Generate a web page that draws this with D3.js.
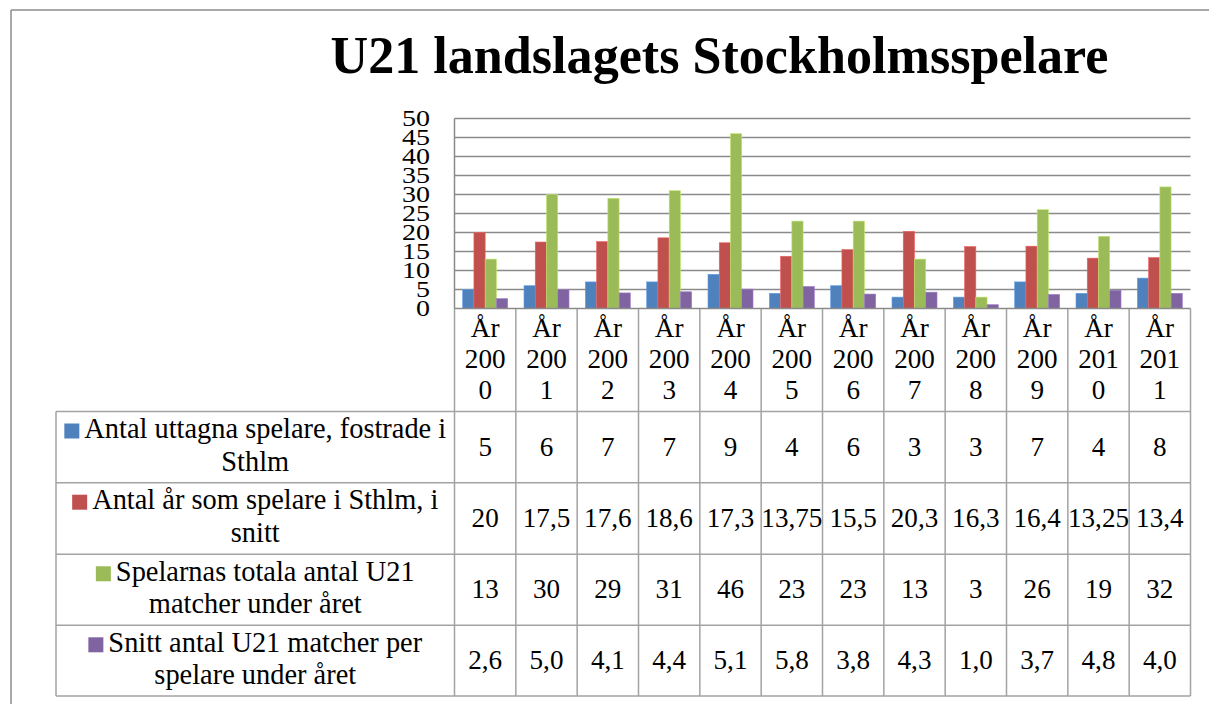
<!DOCTYPE html>
<html>
<head>
<meta charset="utf-8">
<script src="https://cdn.jsdelivr.net/npm/d3@7/dist/d3.min.js"></script>
<style>
  html, body { margin: 0; padding: 0; background: #fff; }
  svg { display: block; }
  text { font-family: "Liberation Serif", "DejaVu Serif", serif; fill: #000; }
</style>
</head>
<body>
<svg id="chart" width="1209" height="704"></svg>
<script>
// ---- data ----
const title = "U21 landslagets Stockholmsspelare";
const categories = ["År 2000","År 2001","År 2002","År 2003","År 2004","År 2005","År 2006","År 2007","År 2008","År 2009","År 2010","År 2011"];
const seriesNames = [
  "Antal uttagna spelare, fostrade i Sthlm",
  "Antal år som spelare i Sthlm, i snitt",
  "Spelarnas totala antal U21 matcher under året",
  "Snitt antal U21 matcher per spelare under året"
];
const seriesColors = ["#4F81BD", "#C0504D", "#9BBB59", "#8064A2"];
const spelare   = [5, 6, 7, 7, 9, 4, 6, 3, 3, 7, 4, 8];
const arSthlm   = [20, 17.5, 17.6, 18.6, 17.3, 13.75, 15.5, 20.3, 16.3, 16.4, 13.25, 13.4];
const matcher   = [13, 30, 29, 31, 46, 23, 23, 13, 3, 26, 19, 32];
const snitt     = [2.6, 5.0, 4.1, 4.4, 5.1, 5.8, 3.8, 4.3, 1.0, 3.7, 4.8, 4.0];
const seriesDecimals = [null, null, null, 1];
const yTicks = [0, 5, 10, 15, 20, 25, 30, 35, 40, 45, 50];

const seriesValues = [spelare, arSthlm, matcher, snitt];

// ---- layout ----
const svg = d3.select("#chart");
const plotL = 454.5, plotR = 1190.5, plotT = 118.5, plotB = 308.5;
const rowEdges = [308.5, 411.5, 482.7, 554.3, 625.3, 696];
const legendL = 56;
const gridColor = "#8a8a8a", tableColor = "#a3a3a3";

const fmt = (v, d) => (d == null ? String(v) : v.toFixed(d)).replace(".", ",");

// measurement helper to fit font sizes
function fitSize(str, targetW, weight) {
  const t = svg.append("text").attr("font-size", 100).attr("font-weight", weight || "normal").text(str);
  const w = t.node().getComputedTextLength();
  t.remove();
  return 100 * targetW / w;
}
function measure(str, size, weight) {
  const t = svg.append("text").attr("font-size", size).attr("font-weight", weight || "normal").text(str);
  const w = t.node().getComputedTextLength();
  t.remove();
  return w;
}

// frame
svg.append("line").attr("x1", 11).attr("x2", 11).attr("y1", 10).attr("y2", 704)
  .attr("stroke", "#8c8c8c").attr("stroke-width", 1.5);
svg.append("line").attr("x1", 11).attr("x2", 1209).attr("y1", 10).attr("y2", 10)
  .attr("stroke", "#8c8c8c").attr("stroke-width", 1.5);

// title
const titleSize = fitSize(title, 778, "bold");
svg.append("text").attr("x", 719.5).attr("y", 73.3).attr("text-anchor", "middle")
  .attr("font-weight", "bold").attr("font-size", titleSize).text(title);

// scales
const y = d3.scaleLinear().domain([0, 50]).range([plotB, plotT]);
const x0 = d3.scaleBand().domain(categories).range([plotL, plotR]).paddingInner(0.266).paddingOuter(0.133);
const x1 = d3.scaleBand().domain(d3.range(seriesNames.length)).range([0, x0.bandwidth()]);

// gridlines
svg.append("g").selectAll("line").data(yTicks.filter(d => d > 0)).join("line")
  .attr("x1", plotL).attr("x2", plotR)
  .attr("y1", d => y(d)).attr("y2", d => y(d))
  .attr("stroke", gridColor).attr("stroke-width", 1.5);

// y axis labels (vertically compressed)
const tickSize = fitSize("50", 28);
svg.append("g").selectAll("text").data(yTicks).join("text")
  .attr("transform", d => `translate(430,${y(d)}) scale(1,0.8)`)
  .attr("text-anchor", "end").attr("dy", "0.35em")
  .attr("font-size", tickSize).text(d => d);

// bars
const barG = svg.append("g");
categories.forEach((c, ci) => {
  seriesValues.forEach((vals, si) => {
    barG.append("rect")
      .attr("x", x0(c) + x1(si))
      .attr("y", y(vals[ci]))
      .attr("width", x1.bandwidth())
      .attr("height", plotB - y(vals[ci]))
      .attr("fill", seriesColors[si])
      .attr("stroke", d3.color(seriesColors[si]).brighter(0.6))
      .attr("stroke-width", 0.6);
  });
});

// table lines
const tbl = svg.append("g").attr("stroke", tableColor).attr("stroke-width", 1.5);
// vertical column lines (category boundaries)
const colEdges = categories.map(c => x0(c) - x0.step() * 0.133 * 0 - (x0.step() - x0.bandwidth()) / 2);
colEdges.push(plotR);
tbl.selectAll("line.v").data(colEdges).join("line").attr("class", "v")
  .attr("x1", d => d).attr("x2", d => d).attr("y1", plotB).attr("y2", rowEdges[rowEdges.length - 1]);
// horizontal row lines
tbl.selectAll("line.h").data(rowEdges.slice(1)).join("line").attr("class", "h")
  .attr("x1", legendL).attr("x2", plotR).attr("y1", d => d).attr("y2", d => d);
// left axis line & x axis line
tbl.append("line").attr("x1", plotL).attr("x2", plotL).attr("y1", plotT).attr("y2", plotB).attr("stroke", gridColor);
tbl.append("line").attr("x1", plotL).attr("x2", plotR).attr("y1", plotB).attr("y2", plotB).attr("stroke", gridColor);
tbl.append("line").attr("x1", legendL).attr("x2", legendL).attr("y1", rowEdges[1]).attr("y2", rowEdges[rowEdges.length - 1]);

// header category labels (wrapped into narrow cells)
const headSize = fitSize("200", 40.7);
categories.forEach(c => {
  const parts = c.split(" ");
  const lines = [parts[0], parts[1].slice(0, 3), parts[1].slice(3)];
  const cx = x0(c) + x0.bandwidth() / 2;
  lines.forEach((l, i) => {
    svg.append("text").attr("x", cx).attr("y", 336.7 + i * 31.3)
      .attr("text-anchor", "middle").attr("font-size", headSize).text(l);
  });
});

// value cells
const valSize = fitSize("13,75", 61);
seriesValues.forEach((vals, si) => {
  const cy = (rowEdges[si + 1] + rowEdges[si + 2]) / 2;
  svg.append("g").selectAll("text").data(vals).join("text")
    .attr("x", (d, i) => x0(categories[i]) + x0.bandwidth() / 2)
    .attr("y", cy + 8.5)
    .attr("text-anchor", "middle").attr("font-size", valSize)
    .text(d => fmt(d, seriesDecimals[si]));
});

// legend cells
const legSize = fitSize("Antal uttagna spelare, fostrade i", 362);
const swatch = 15, swGap = 5, maxW = 388;
seriesNames.forEach((name, si) => {
  const top = rowEdges[si + 1];
  const cx = (legendL + plotL) / 2;
  // wrap
  const words = name.split(" ");
  const lines = [];
  let cur = "";
  words.forEach(w => {
    const test = cur ? cur + " " + w : w;
    const extra = lines.length === 0 ? swatch + swGap : 0;
    if (cur && measure(test, legSize) + extra > maxW) { lines.push(cur); cur = w; }
    else cur = test;
  });
  lines.push(cur);
  lines.forEach((l, i) => {
    const baseY = top + 26.5 + i * 32.5;
    const w = measure(l, legSize);
    if (i === 0) {
      const total = swatch + swGap + w;
      const sx = cx - total / 2;
      svg.append("rect").attr("x", sx).attr("y", baseY - 14.5).attr("width", swatch).attr("height", swatch)
        .attr("fill", seriesColors[si]);
      svg.append("text").attr("x", sx + swatch + swGap).attr("y", baseY)
        .attr("font-size", legSize).text(l);
    } else {
      svg.append("text").attr("x", cx).attr("y", baseY).attr("text-anchor", "middle")
        .attr("font-size", legSize).text(l);
    }
  });
});
</script>
</body>
</html>
